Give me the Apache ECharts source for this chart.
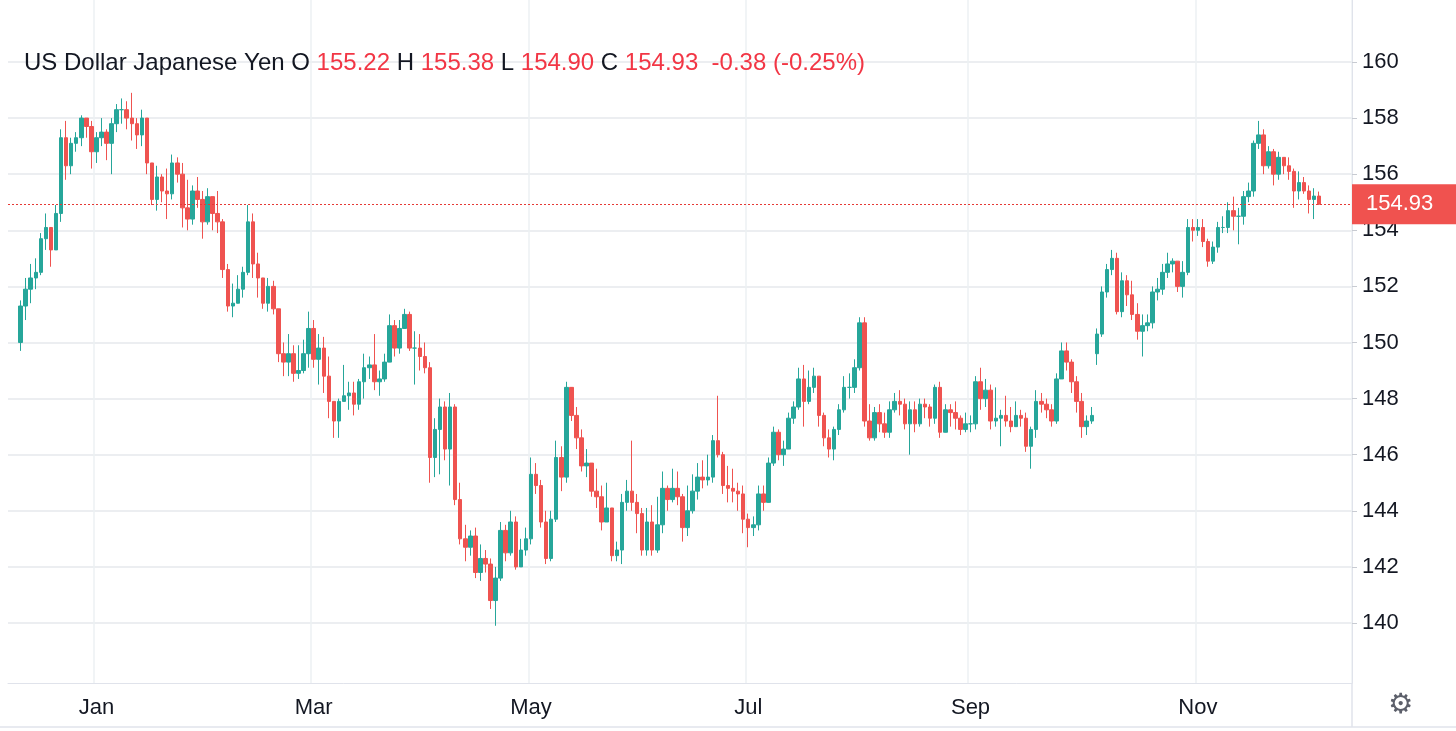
<!DOCTYPE html>
<html><head><meta charset="utf-8">
<script src="https://cdn.jsdelivr.net/npm/echarts@6/dist/echarts.min.js"></script>
<style>html,body{margin:0;padding:0;background:#fff}#c{width:1456px;height:731px}</style>
</head><body><div id="c"></div>
<script>
// [close, high, low]; open = previous close unless overridden
const firstOpen = 150.0;
const openOverrides = {213: 149.6};
const candles = [
[151.3,151.5,149.7],[151.9,152.3,150.8],[152.3,152.8,151.4],[152.5,153.0,151.9],[153.7,153.9,152.4],
[154.1,154.6,153.3],[153.3,154.0,152.7],[154.6,154.9,153.3],[157.3,157.6,154.3],[156.3,157.9,155.8],
[157.1,157.3,156.0],[157.3,157.5,156.8],[158.0,158.1,157.0],[157.7,158.0,157.3],[156.8,157.9,156.2],
[157.3,157.5,156.4],[157.5,158.0,157.0],[157.1,157.6,156.5],[157.8,158.0,156.0],[158.3,158.5,157.5],
[158.3,158.7,157.8],[158.0,158.6,157.6],[157.8,158.9,157.2],[157.4,158.0,156.9],[158.0,158.3,157.0],
[156.4,158.0,156.0],[155.1,156.0,154.9],[155.9,156.3,154.7],[155.4,156.0,155.0],[155.3,156.2,154.4],
[156.4,156.7,155.1],[156.0,156.6,155.7],[154.8,156.4,154.1],[154.4,155.8,154.0],[155.4,155.6,154.2],
[155.1,155.9,154.8],[154.3,155.4,153.7],[155.2,155.5,154.2],[154.6,155.2,154.0],[154.3,155.4,153.9],
[152.6,154.4,152.3],[151.3,152.8,151.1],[151.4,152.1,150.9],[151.9,152.4,151.5],[152.5,152.7,151.6],
[154.3,154.9,152.4],[152.8,154.6,152.3],[152.3,153.2,151.6],[151.4,152.1,151.2],[152.0,152.3,151.1],
[151.2,152.2,151.0],[149.6,151.2,149.3],[149.3,150.0,148.8],[149.6,150.3,148.8],[148.9,149.9,148.6],
[149.0,149.9,148.7],[149.6,150.1,148.9],[150.5,151.1,149.1],[149.4,150.8,149.1],[149.8,150.3,148.5],
[148.8,150.2,148.2],[147.9,149.5,147.3],[147.2,147.9,146.6],[147.9,148.0,146.6],[148.1,149.2,147.9],
[148.2,148.6,147.6],[147.8,148.6,147.4],[148.6,148.7,147.6],[149.1,149.6,148.0],[149.2,149.5,148.7],
[148.6,150.3,148.3],[148.7,149.0,148.1],[149.3,149.6,148.6],[150.6,151.0,149.6],[149.8,150.8,149.5],
[150.5,150.8,149.6],[151.0,151.2,150.5],[149.8,151.1,149.7],[149.8,150.4,148.5],[149.5,150.3,149.0],
[149.1,150.0,148.9],[145.9,149.3,145.0],[146.9,147.3,145.2],[147.7,148.0,145.3],[146.2,147.9,145.8],
[147.7,148.2,144.9],[144.4,147.8,144.2],[143.0,145.0,142.8],[142.7,143.5,142.2],[143.1,143.3,142.4],
[141.8,143.4,141.6],[142.3,142.8,141.5],[142.1,142.6,141.8],[140.8,142.3,140.5],[141.6,142.0,139.9],
[143.3,143.6,141.5],[142.5,143.5,142.2],[143.6,144.0,142.4],[142.0,143.8,141.9],[142.6,143.0,142.0],
[143.0,143.4,142.4],[145.3,145.9,142.8],[144.9,145.7,144.6],[143.6,145.1,143.4],[142.3,144.0,142.1],
[143.7,144.0,142.2],[145.9,146.5,143.6],[145.2,146.3,144.7],[148.4,148.6,145.0],[147.4,148.3,147.2],
[146.6,147.7,146.2],[145.6,146.9,145.4],[145.7,146.2,145.2],[144.7,145.7,144.5],[144.5,145.5,144.1],
[143.6,144.9,143.3],[144.1,145.0,143.7],[142.4,144.0,142.2],[142.6,142.9,142.2],[144.3,144.6,142.1],
[144.7,145.1,144.0],[144.3,146.5,144.0],[143.9,144.6,143.2],[142.6,144.1,142.4],[143.6,144.1,142.4],
[142.6,144.2,142.4],[143.5,144.5,142.5],[144.8,145.4,143.2],[144.4,144.9,144.0],[144.8,145.5,144.3],
[144.5,145.4,144.2],[143.4,144.6,142.9],[144.0,144.9,143.1],[144.7,145.3,143.9],[145.2,145.7,144.4],
[145.1,145.8,144.8],[145.2,146.0,144.9],[146.5,146.7,145.0],[146.0,148.1,145.9],[144.9,146.1,144.6],
[144.8,145.6,144.3],[144.7,145.5,144.3],[144.6,145.0,144.0],[143.7,144.9,143.2],[143.4,143.9,142.7],
[143.5,143.8,143.1],[144.6,144.9,143.3],[144.3,144.9,144.0],[145.7,145.9,144.4],[146.8,147.0,145.6],
[146.0,146.9,145.8],[146.2,146.5,145.6],[147.3,147.5,146.2],[147.7,147.9,147.1],[148.7,149.1,147.6],
[147.9,149.2,147.0],[148.4,149.0,147.8],[148.8,149.1,148.2],[147.4,148.8,147.0],[146.6,147.5,146.3],
[146.2,146.9,145.9],[146.9,147.0,145.8],[147.6,147.8,146.7],[148.4,148.8,147.5],[148.4,148.9,148.0],
[149.1,149.4,148.2],[150.7,150.9,149.0],[147.2,150.9,147.0],[146.6,147.8,146.5],[147.5,147.7,146.5],
[147.1,147.8,146.8],[146.8,147.5,146.6],[147.6,147.9,146.6],[147.9,148.2,147.5],[147.8,148.3,147.4],
[147.1,148.0,146.9],[147.6,147.9,146.0],[147.1,147.9,146.8],[147.8,148.0,147.0],[147.7,148.0,147.3],
[147.3,147.8,147.0],[148.4,148.5,147.1],[146.8,148.6,146.6],[147.6,147.8,146.9],[147.5,147.8,147.0],
[147.3,147.9,146.9],[146.9,147.4,146.7],[147.1,147.5,146.8],[147.1,147.4,146.8],[148.6,148.8,146.9],
[148.0,149.1,147.6],[148.3,148.7,147.7],[147.2,148.5,146.9],[147.3,148.4,147.0],[147.4,147.6,146.3],
[147.2,148.1,147.0],[147.0,147.7,146.8],[147.4,147.9,147.0],[147.3,147.6,147.0],[146.3,147.5,146.1],
[146.9,147.0,145.5],[147.9,148.3,146.6],[147.8,148.2,147.5],[147.6,148.0,147.3],[147.2,147.8,147.0],
[148.7,148.9,147.1],[149.7,150.0,148.7],[149.3,150.0,149.0],[148.6,149.4,148.2],[147.9,148.8,147.5],
[147.0,148.2,146.6],[147.2,147.4,146.7],[147.4,147.7,147.1],
[150.3,150.5,149.2],[151.8,152.0,150.2],[152.6,152.8,151.6],[153.0,153.3,152.4],[151.1,153.2,151.0],
[152.2,152.5,150.9],[151.7,152.4,151.3],[151.0,152.2,150.8],[150.4,151.4,150.1],[150.6,151.0,149.5],
[150.7,151.0,150.4],[151.8,152.0,150.5],[151.9,152.3,151.5],[152.5,152.8,151.7],[152.8,153.2,152.3],
[152.9,153.0,152.5],[152.0,152.9,151.8],[152.5,152.9,151.6],[154.1,154.4,152.4],[154.0,154.4,153.6],
[154.1,154.4,153.8],[153.6,154.4,153.4],[152.9,153.7,152.7],[153.4,153.6,152.8],[154.1,154.3,153.2],
[154.1,154.5,153.9],[154.7,155.0,153.9],[154.5,155.2,154.0],[154.5,154.8,153.5],[155.2,155.4,154.2],
[155.4,155.7,155.0],[157.1,157.2,155.2],[157.4,157.9,156.9],[156.3,157.6,156.0],[156.8,157.0,156.2],
[156.0,156.9,155.6],[156.6,156.8,155.8],[156.3,156.6,156.0],[156.1,156.6,155.8],[155.4,156.2,154.8],
[155.7,156.1,155.1],[155.4,155.9,155.3],[155.1,155.6,154.6],[155.22,155.5,154.4],[154.93,155.38,154.90]
];
const yTicks = [140,142,144,146,148,150,152,154,156,158,160];
const monthNames = ['Jan','Feb','Mar','Apr','May','Jun','Jul','Aug','Sep','Oct','Nov','Dec'];
const lastPrice = 154.93;
const padBefore = 2, padAfter = 6;

const dates = [];
{ const total = candles.length + padBefore;
  let d = new Date(Date.UTC(2025,11,5));
  while (dates.length < total) {
    const wd = d.getUTCDay();
    if (wd !== 0 && wd !== 6) dates.unshift(new Date(d));
    d = new Date(d.getTime() - 86400000);
  }
  d = new Date(Date.UTC(2025,11,6));
  let k = 0;
  while (k < padAfter) {
    const wd = d.getUTCDay();
    if (wd !== 0 && wd !== 6) { dates.push(new Date(d)); k++; }
    d = new Date(d.getTime() + 86400000);
  } }
const cats = dates.map(d => d.toISOString().slice(0,10));
const labelIdx = new Set();
for (let i = 1; i < dates.length; i++) {
  const m = dates[i].getUTCMonth();
  if (m !== dates[i-1].getUTCMonth() && m % 2 === 0) labelIdx.add(i);
}
const ohlc = [];
for (let i = 0; i < padBefore; i++) ohlc.push('-');
candles.forEach((c,i) => {
  const o = openOverrides[i] !== undefined ? openOverrides[i] : (i === 0 ? firstOpen : candles[i-1][0]);
  ohlc.push([o, c[0], c[2], c[1]]);
});
for (let i = 0; i < padAfter; i++) ohlc.push('-');

const FONT = 'Helvetica, Arial, "Liberation Sans", sans-serif';
const chart = echarts.init(document.getElementById('c'));
const red = '#ef5350', green = '#26a69a';
chart.setOption({
  animation: false,
  grid: {left: 8, right: 104, top: 0, bottom: 48},
  title: {
    left: 19, top: 46,
    text: '{b|US Dollar Japanese Yen O }{r|155.22}{b| H }{r|155.38}{b| L }{r|154.90}{b| C }{r|154.93  -0.38 (-0.25%)}',
    textStyle: {rich: {
      b: {fontFamily: FONT, fontSize: 24, fontWeight: 'normal', color: '#131722'},
      r: {fontFamily: FONT, fontSize: 24, fontWeight: 'normal', color: '#f23645'}
    }}
  },
  xAxis: {
    type: 'category', data: cats, boundaryGap: true,
    axisLine: {lineStyle: {color: '#e0e3eb'}},
    axisTick: {show: false},
    axisLabel: {
      interval: (i) => labelIdx.has(i),
      formatter: (v) => monthNames[new Date(v).getUTCMonth()],
      color: '#131722', fontSize: 22, margin: 14, fontFamily: FONT
    },
    splitLine: {show: true, interval: (i) => labelIdx.has(i), lineStyle: {color: '#edf0f3', width: 1.5}}
  },
  yAxis: {
    type: 'value', position: 'right', min: 137.86, max: 162.21, scale: true,
    axisLine: {show: true, lineStyle: {color: '#e0e3eb'}},
    axisTick: {show: true, length: 5, customValues: yTicks, lineStyle: {color: '#c8cbd2'}},
    axisLabel: {customValues: yTicks, color: '#131722', fontSize: 22, margin: 10, fontFamily: FONT},
    splitLine: {show: true, lineStyle: {color: '#e6e8ec', width: 1.5}}
  },
  series: [{
    type: 'candlestick', data: ohlc, barWidth: 4,
    itemStyle: {color: green, color0: red, borderColor: green, borderColor0: red, borderWidth: 1},
    markLine: {
      symbol: 'none', silent: true,
      lineStyle: {color: '#e53935', type: [2,2], width: 1},
      label: {position: 'end', formatter: '154.93', color: '#fff', backgroundColor: '#f0524f',
        fontSize: 22, padding: [9, 30, 9, 14], distance: 0, fontFamily: FONT},
      data: [{yAxis: lastPrice}]
    }
  }],
  graphic: [
    {type: 'line', shape: {x1: 0, y1: 727, x2: 1456, y2: 727}, style: {stroke: '#e0e3eb', lineWidth: 1.5}},
    {type: 'line', shape: {x1: 1352, y1: 683, x2: 1352, y2: 727}, style: {stroke: '#e0e3eb', lineWidth: 1.5}},
    {type: 'text', left: 1388, top: 692, style: {text: '⚙', fontSize: 28, fill: '#5d606b', fontFamily: 'DejaVu Sans'}}
  ]
});
</script></body></html>
